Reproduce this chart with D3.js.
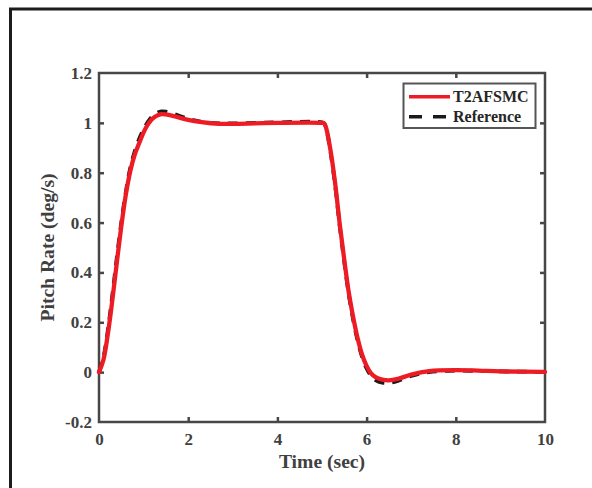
<!DOCTYPE html>
<html>
<head>
<meta charset="utf-8">
<script src="https://cdn.jsdelivr.net/npm/d3@7"></script>
<style>
  html, body { margin: 0; padding: 0; background: #fff; }
  svg { display: block; }
  text { font-family: "Liberation Serif", "Times New Roman", serif; font-weight: bold; }
</style>
</head>
<body>
<div id="chart"></div>
<script>
// Pitch-rate step response: controller output vs. reference model
const timeT2 = [0, 0.1, 0.2, 0.3, 0.4, 0.5, 0.6, 0.7, 0.8, 0.9, 1.0, 1.1, 1.2, 1.3, 1.4, 1.5, 1.7, 2.0, 2.3, 2.7, 3.0, 3.5, 4.0, 5.0,
                5.05, 5.1, 5.2, 5.3, 5.4, 5.5, 5.6, 5.7, 5.8, 5.9, 6.0, 6.1, 6.2, 6.35, 6.5, 6.7, 7.0, 7.4, 8.0, 8.5, 9.0, 10];
const rateT2 = [0, 0.05, 0.155, 0.29, 0.44, 0.585, 0.71, 0.805, 0.872, 0.918, 0.962, 0.995, 1.017, 1.029, 1.035, 1.034, 1.026, 1.012, 1.003, 0.996, 0.996, 0.998, 1.0, 1.0,
                0.998, 0.975, 0.88, 0.75, 0.59, 0.45, 0.32, 0.22, 0.135, 0.07, 0.025, -0.005, -0.02, -0.03, -0.033, -0.027, -0.01, 0.004, 0.008, 0.006, 0.003, 0.001];

const timeRef = [0, 0.1, 0.2, 0.3, 0.4, 0.5, 0.6, 0.7, 0.8, 0.9, 1.0, 1.1, 1.2, 1.3, 1.4, 1.5, 1.7, 2.0, 2.3, 2.7, 3.0, 3.5, 4.0, 5.0,
                 5.05, 5.1, 5.2, 5.3, 5.4, 5.5, 5.6, 5.7, 5.8, 5.9, 6.0, 6.1, 6.2, 6.35, 6.5, 6.7, 7.0, 7.4, 8.0, 8.5, 9.0, 10];
const rateRef = [0, 0.06, 0.17, 0.31, 0.46, 0.6, 0.72, 0.818, 0.885, 0.935, 0.975, 1.005, 1.027, 1.04, 1.046, 1.045, 1.035, 1.016, 1.004, 0.998, 0.998, 1.0, 1.002, 1.002,
                 0.997, 0.972, 0.872, 0.742, 0.582, 0.442, 0.312, 0.21, 0.125, 0.06, 0.015, -0.015, -0.032, -0.042, -0.043, -0.035, -0.015, 0.0, 0.006, 0.005, 0.003, 0.001];

const xTicks = [0, 2, 4, 6, 8, 10];
const yTicks = [-0.2, 0, 0.2, 0.4, 0.6, 0.8, 1, 1.2];
const seriesNames = ["T2AFSMC", "Reference"];

const W = 592, H = 488;
const plot = { left: 99, right: 545, top: 73, bottom: 422 };
const axisColor = "#474747";

const svg = d3.select("#chart").append("svg").attr("width", W).attr("height", H);

// outer figure frame (only the left and top edges fall inside the page)
svg.append("rect")
  .attr("x", 10.5).attr("y", 9).attr("width", 700).attr("height", 600)
  .attr("fill", "none").attr("stroke", "#1c1c1c").attr("stroke-width", 3);

const x = d3.scaleLinear().domain([0, 10]).range([plot.left, plot.right]);
const y = d3.scaleLinear().domain([-0.2, 1.2]).range([plot.bottom, plot.top]);

// plain hyphen-minus labels, e.g. "-0.2"
const fmt = d => String(+d.toFixed(1));

function styleAxis(g) {
  g.select(".domain").remove();
  g.selectAll(".tick line").attr("stroke", axisColor).attr("stroke-width", 2.5);
  g.selectAll(".tick text").attr("fill", "#404040").attr("font-size", "17px");
}

// bottom and left axes with labels, ticks pointing inwards
svg.append("g").attr("transform", `translate(0,${plot.bottom})`)
  .call(d3.axisBottom(x).tickValues(xTicks).tickFormat(fmt).tickSizeInner(-5).tickSizeOuter(0).tickPadding(11))
  .call(styleAxis)
  .call(g => g.selectAll(".tick").filter(d => d === 0 || d === 10).select("line").remove());

svg.append("g").attr("transform", `translate(${plot.left},0)`)
  .call(d3.axisLeft(y).tickValues(yTicks).tickFormat(fmt).tickSizeInner(-5).tickSizeOuter(0).tickPadding(7))
  .call(styleAxis)
  .call(g => g.selectAll(".tick").filter(d => d === -0.2 || d === 1.2).select("line").remove());

// top and right axes: ticks only
svg.append("g").attr("transform", `translate(0,${plot.top})`)
  .call(d3.axisTop(x).tickValues(xTicks).tickFormat("").tickSizeInner(-5).tickSizeOuter(0))
  .call(styleAxis)
  .call(g => g.selectAll(".tick").filter(d => d === 0 || d === 10).select("line").remove());

svg.append("g").attr("transform", `translate(${plot.right},0)`)
  .call(d3.axisRight(y).tickValues(yTicks).tickFormat("").tickSizeInner(-5).tickSizeOuter(0))
  .call(styleAxis)
  .call(g => g.selectAll(".tick").filter(d => d === -0.2 || d === 1.2).select("line").remove());

// plot box
svg.append("rect")
  .attr("x", plot.left).attr("y", plot.top)
  .attr("width", plot.right - plot.left).attr("height", plot.bottom - plot.top)
  .attr("fill", "none").attr("stroke", axisColor).attr("stroke-width", 2.5);

const line = d3.line().x(d => x(d[0])).y(d => y(d[1])).curve(d3.curveCatmullRom.alpha(0.5));

const refData = timeRef.map((t, i) => [t, rateRef[i]]);
const t2Data = timeT2.map((t, i) => [t, rateT2[i]]);

svg.append("path").datum(refData).attr("d", line)
  .attr("fill", "none").attr("stroke", "#1a1a1a").attr("stroke-width", 3.8)
  .attr("stroke-dasharray", "10,8");

svg.append("path").datum(t2Data).attr("d", line)
  .attr("fill", "none").attr("stroke", "#ed1c24").attr("stroke-width", 4.3)
  .attr("stroke-linejoin", "round").attr("stroke-linecap", "round");

// axis titles (slightly widened lettering)
svg.append("text")
  .attr("transform", `translate(${(plot.left + plot.right) / 2},468) scale(1.09,1)`)
  .attr("text-anchor", "middle").attr("font-size", "18px").attr("fill", "#404040")
  .text("Time (sec)");

svg.append("text")
  .attr("transform", `translate(54,${(plot.top + plot.bottom) / 2}) rotate(-90) scale(1.09,1)`)
  .attr("text-anchor", "middle").attr("font-size", "18px").attr("fill", "#404040")
  .text("Pitch Rate (deg/s)");

// legend
const leg = svg.append("g");
leg.append("rect")
  .attr("x", 403.5).attr("y", 83.5).attr("width", 132).attr("height", 44.5)
  .attr("fill", "#fff").attr("stroke", "#555").attr("stroke-width", 2);

const legendStyles = [
  { stroke: "#ed1c24", width: 3.5, dash: null },
  { stroke: "#1a1a1a", width: 3.5, dash: "13,11" }
];
seriesNames.forEach((name, i) => {
  const cy = 96.7 + i * 20;
  leg.append("line")
    .attr("x1", 409).attr("x2", 450).attr("y1", cy).attr("y2", cy)
    .attr("stroke", legendStyles[i].stroke).attr("stroke-width", legendStyles[i].width)
    .attr("stroke-dasharray", legendStyles[i].dash);
  leg.append("text")
    .attr("x", 453).attr("y", cy + 5.3)
    .attr("font-size", "16px").attr("fill", "#262626")
    .text(name);
});
</script>
</body>
</html>
